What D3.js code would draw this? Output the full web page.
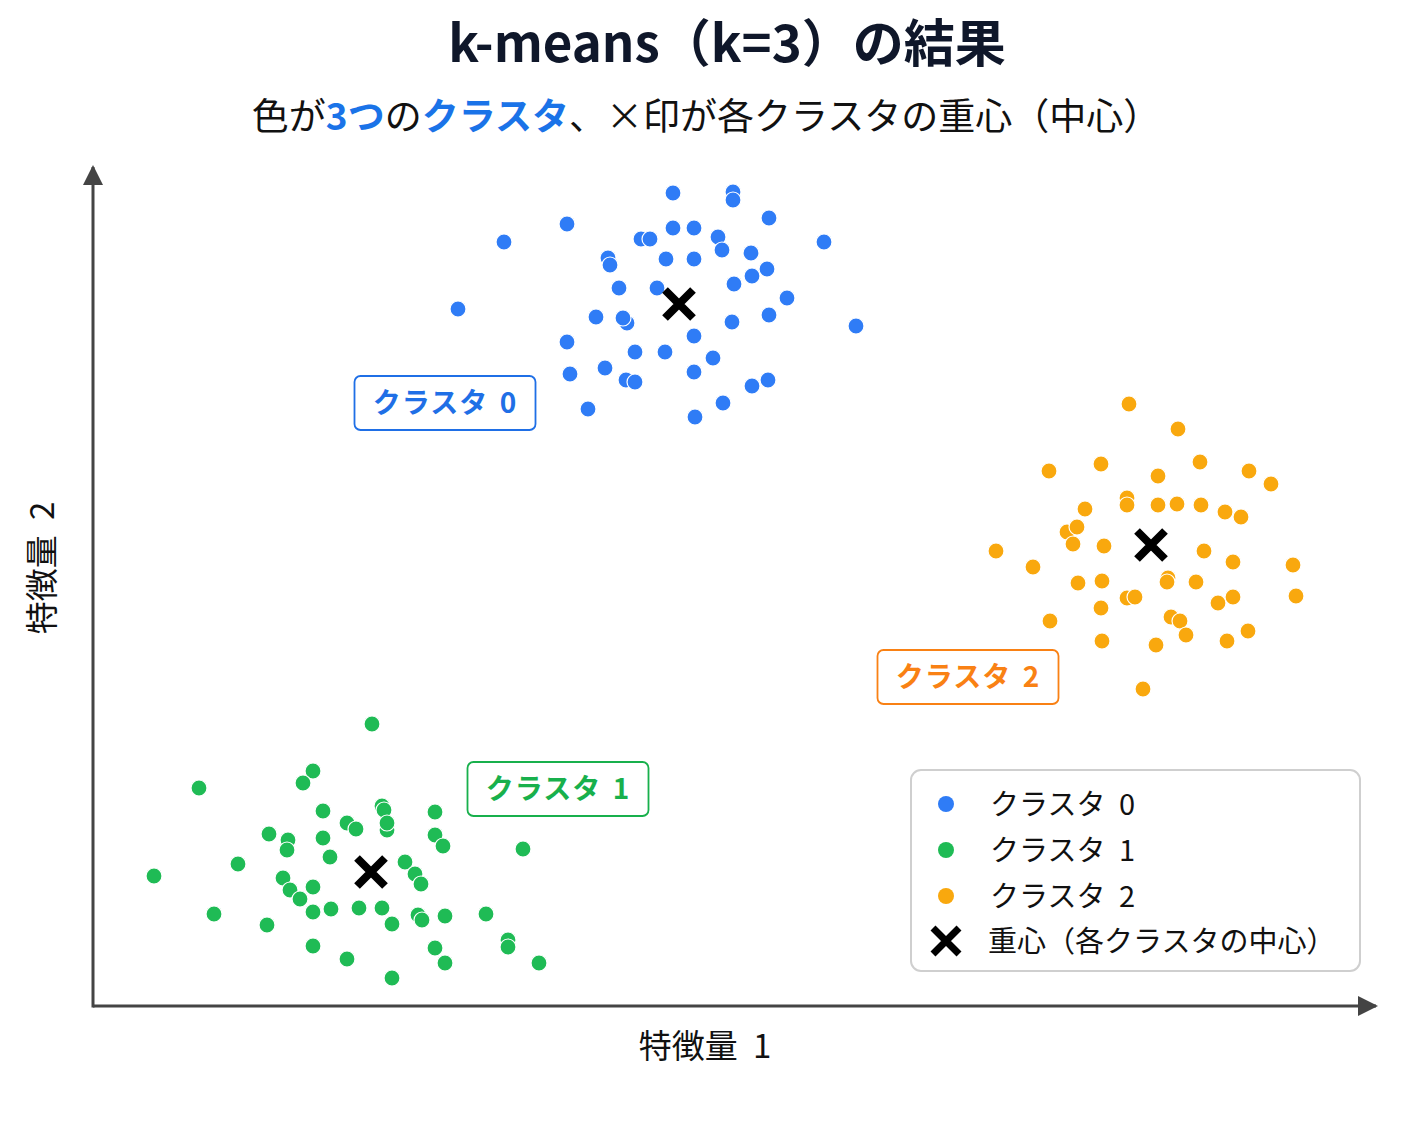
<!DOCTYPE html>
<html><head><meta charset="utf-8">
<script src="https://cdn.jsdelivr.net/npm/d3@7"></script>
<style>
html,body{margin:0;padding:0;background:#fff;}
svg{display:block;font-family:"Noto Sans CJK JP","Noto Sans",sans-serif;}
</style></head>
<body><svg id="c" width="1402" height="1122"></svg>
<script>
// ---- data (feature units) ----
const cluster0 = [[5.80,8.13],[6.40,8.14],[6.40,8.06],[6.76,7.88],[4.74,7.82],[4.11,7.64],[5.80,7.78],[6.01,7.78],[5.48,7.67],[5.57,7.67],[6.25,7.69],[6.29,7.56],[6.58,7.53],[7.31,7.64],[5.15,7.48],[5.17,7.41],[5.73,7.47],[6.01,7.47],[6.74,7.37],[6.59,7.30],[5.26,7.18],[6.41,7.22],[5.64,7.18],[6.94,7.08],[3.65,6.97],[6.76,6.91],[7.63,6.80],[5.03,6.89],[5.34,6.83],[5.30,6.88],[6.39,6.84],[6.01,6.70],[4.74,6.64],[5.42,6.54],[5.72,6.54],[6.20,6.48],[5.12,6.38],[4.77,6.32],[6.01,6.34],[5.33,6.26],[5.42,6.24],[6.59,6.20],[6.75,6.26],[4.95,5.97],[6.30,6.03],[6.02,5.89]];
const cluster1 = [[2.79,2.82],[2.20,2.35],[2.10,2.23],[1.06,2.18],[2.30,1.95],[2.89,2.00],[2.91,1.96],[3.42,1.94],[2.54,1.83],[2.63,1.77],[2.94,1.76],[2.94,1.83],[1.76,1.72],[1.95,1.66],[1.94,1.56],[2.30,1.68],[3.42,1.71],[3.50,1.60],[4.30,1.57],[2.37,1.49],[1.45,1.42],[0.61,1.30],[3.12,1.44],[3.22,1.32],[3.28,1.22],[1.90,1.28],[1.97,1.16],[2.07,1.07],[2.20,1.19],[1.21,0.92],[1.74,0.81],[2.20,0.94],[2.38,0.97],[2.66,0.98],[2.89,0.98],[2.99,0.82],[3.25,0.91],[3.29,0.86],[3.52,0.90],[3.93,0.92],[2.20,0.60],[2.54,0.47],[2.99,0.28],[3.42,0.58],[3.52,0.43],[4.15,0.66],[4.15,0.59],[4.46,0.43]];
const cluster2 = [[10.36,6.02],[10.85,5.77],[9.56,5.35],[10.08,5.42],[10.65,5.30],[11.07,5.44],[11.56,5.35],[11.78,5.22],[9.92,4.97],[10.34,5.08],[10.34,5.01],[10.65,5.01],[10.84,5.02],[11.08,5.01],[11.32,4.94],[11.48,4.89],[9.74,4.74],[9.84,4.79],[9.80,4.62],[10.11,4.60],[9.03,4.55],[9.40,4.39],[11.11,4.55],[11.40,4.44],[12.00,4.41],[9.85,4.23],[10.09,4.25],[10.75,4.28],[10.74,4.24],[11.03,4.24],[12.03,4.10],[10.34,4.08],[10.42,4.09],[11.25,4.03],[11.40,4.09],[10.08,3.98],[10.78,3.89],[10.87,3.85],[10.93,3.71],[9.57,3.85],[10.09,3.65],[10.63,3.61],[11.34,3.65],[11.55,3.75],[10.50,3.17]];
const centroids = [[5.86,7.02],[2.78,1.34],[10.58,4.61]];
const clusterNames = ["クラスタ 0","クラスタ 1","クラスタ 2"];
const labelAnchors = [[3.52,6.03],[4.65,2.17],[8.75,3.29]];
const centroidLegend = "重心（各クラスタの中心）";
const xLabel = "特徴量 1";
const yLabel = "特徴量 2";
const titleText = "k-means（k=3）の結果";
const subtitleParts = [["色が",false],["3つ",true],["の",false],["クラスタ",true],["、×印が各クラスタの重心（中心）",false]];

// ---- styling ----
const dotColors = ["#2f7cf6","#1fbb55","#f9a80e"];
const labelColors = ["#1f6fe6","#18b04c","#f98114"];

const svg = d3.select("#c");
const x = d3.scaleLinear().domain([0,12.83]).range([93,1376]);
const y = d3.scaleLinear().domain([0,8.39]).range([1006,167]);

// title
svg.append("text").attr("x",727).attr("y",62).attr("text-anchor","middle")
  .attr("font-size",51).attr("font-weight",700).attr("fill","#0f172a").text(titleText);
const st = svg.append("text").attr("x",706).attr("y",130).attr("text-anchor","middle")
  .attr("font-size",37).attr("fill","#111");
subtitleParts.forEach(([t,hl])=>{
  st.append("tspan").text(t).attr("fill",hl?"#1a73e8":"#111").attr("font-weight",hl?700:400);
});

// axes
const axisColor = "#444";
const defs = svg.append("defs");
defs.append("marker").attr("id","arr").attr("viewBox","0 0 10 10").attr("refX",9).attr("refY",5)
  .attr("markerWidth",20).attr("markerHeight",20).attr("markerUnits","userSpaceOnUse")
  .attr("orient","auto").append("path").attr("d","M0,0 L10,5 L0,10 z").attr("fill",axisColor);
svg.append("line").attr("x1",x(0)).attr("y1",y(0)).attr("x2",x(12.83)).attr("y2",y(0))
  .attr("stroke",axisColor).attr("stroke-width",3).attr("marker-end","url(#arr)");
svg.append("line").attr("x1",x(0)).attr("y1",y(0)+1.5).attr("x2",x(0)).attr("y2",y(8.39))
  .attr("stroke",axisColor).attr("stroke-width",3).attr("marker-end","url(#arr)");

svg.append("text").attr("x",705).attr("y",1058).attr("text-anchor","middle")
  .attr("font-size",33).attr("word-spacing",8).attr("fill","#111").text(xLabel);
svg.append("text").attr("transform","translate(54,568) rotate(-90)").attr("text-anchor","middle")
  .attr("font-size",33).attr("word-spacing",8).attr("fill","#111").text(yLabel);

// points
[cluster0,cluster1,cluster2].forEach((pts,i)=>{
  svg.append("g").selectAll("circle").data(pts).join("circle")
    .attr("cx",d=>x(d[0])).attr("cy",d=>y(d[1])).attr("r",8)
    .attr("fill",dotColors[i]).attr("stroke","#fff").attr("stroke-width",1.2);
});

// centroid marks
const xPath = (cx,cy,s)=>`M${cx-s},${cy-s}L${cx+s},${cy+s}M${cx-s},${cy+s}L${cx+s},${cy-s}`;
svg.append("g").selectAll("path").data(centroids).join("path")
  .attr("d",d=>xPath(x(d[0]),y(d[1]),14)).attr("stroke","#000").attr("stroke-width",8)
  .attr("stroke-linecap","butt").attr("fill","none");

// cluster label boxes
labelAnchors.forEach((a,i)=>{
  const g = svg.append("g").attr("transform",`translate(${x(a[0])},${y(a[1])})`);
  g.append("rect").attr("x",-90.5).attr("y",-27).attr("width",181).attr("height",54).attr("rx",6)
    .attr("fill","#fff").attr("stroke",labelColors[i]).attr("stroke-width",1.8);
  g.append("text").attr("x",0).attr("y",10).attr("text-anchor","middle").attr("font-size",28)
    .attr("font-weight",700).attr("fill",labelColors[i]).attr("letter-spacing",1).attr("word-spacing",4)
    .text(clusterNames[i]);
});

// legend
const lg = svg.append("g");
lg.append("rect").attr("x",911).attr("y",770).attr("width",449).attr("height",201).attr("rx",10)
  .attr("fill","#fff").attr("stroke","#cfcfcf").attr("stroke-width",2);
clusterNames.forEach((n,i)=>{
  const cy = 804 + i*46;
  lg.append("circle").attr("cx",946).attr("cy",cy).attr("r",8).attr("fill",dotColors[i]);
  lg.append("text").attr("x",990).attr("y",cy+11).attr("font-size",29).attr("word-spacing",7)
    .attr("fill","#111").text(n);
});
lg.append("path").attr("d",xPath(946,941,13)).attr("stroke","#000").attr("stroke-width",7).attr("fill","none");
lg.append("text").attr("x",988).attr("y",952).attr("font-size",29).attr("fill","#111").text(centroidLegend);
</script></body></html>
